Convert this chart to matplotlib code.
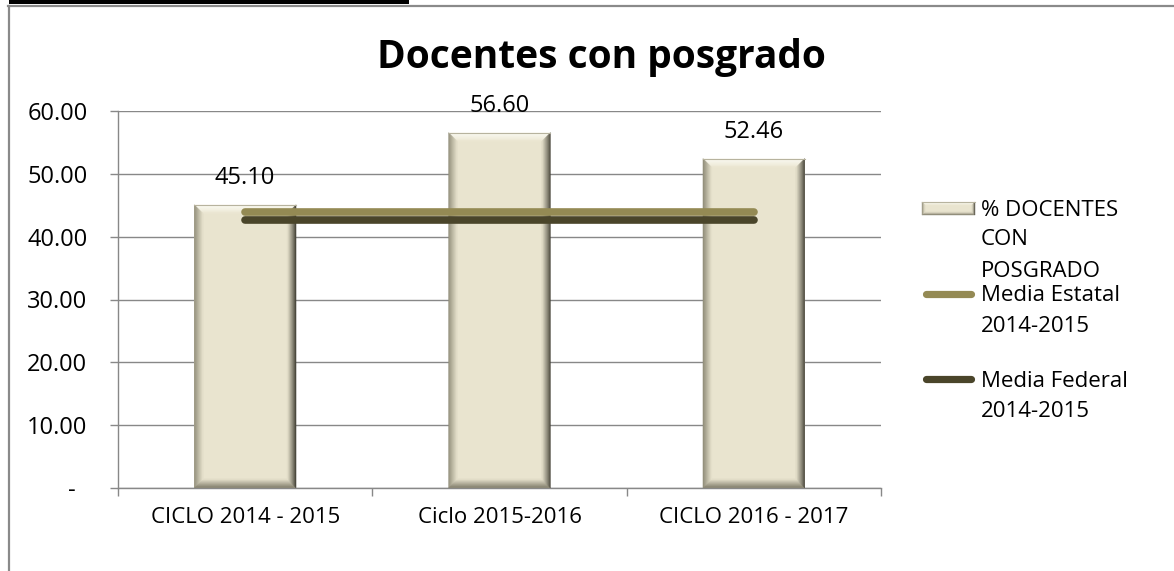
import matplotlib
matplotlib.use("Agg")
import matplotlib.pyplot as plt
from matplotlib.patches import Polygon, Rectangle
from matplotlib.lines import Line2D
from matplotlib.transforms import IdentityTransform
import numpy as np

# ---------------- data ----------------
categories = ["CICLO 2014 - 2015", "Ciclo 2015-2016", "CICLO 2016 - 2017"]
docentes_posgrado = [45.10, 56.60, 52.46]
media_estatal = [44.0, 44.0, 44.0]
media_federal = [42.6, 42.6, 42.6]
yticks = [0, 10, 20, 30, 40, 50, 60]
title = "Docentes con posgrado"
legend_labels = ["% DOCENTES\nCON\nPOSGRADO", "Media Estatal\n2014-2015", "Media Federal\n2014-2015"]

# ---------------- style ----------------
W, H = 1174, 571
DPI = 100
FONT = "Open Sans"
plt.rcParams["font.family"] = [FONT, "DejaVu Sans"]
FILL = np.array([233, 228, 207]) / 255
C_EST = "#948A54"
C_FED = "#4A452A"
GRID = "#888888"
FS = 16
FS_NUM = 17

fig = plt.figure(figsize=(W / DPI, H / DPI), dpi=DPI)
fig.patch.set_facecolor("white")

def fy(y):  # top-based pixel -> display y
    return H - y

# frame decorations
fig.add_artist(Rectangle((9, fy(4)), 400, 4, transform=IdentityTransform(),
                         facecolor="black", edgecolor="none"))
fig.add_artist(Line2D([8, W], [fy(6.3), fy(6.3)], transform=IdentityTransform(),
                      color="#8a8a8a", lw=1.6))
fig.add_artist(Line2D([8.6, 8.6], [fy(6.3), 0], transform=IdentityTransform(),
                      color="#8a8a8a", lw=1.6))

ax_l, ax_r, ax_t, ax_b = 118, 881, 111.3, 487.7
ax = fig.add_axes([ax_l / W, (H - ax_b) / H, (ax_r - ax_l) / W, (ax_b - ax_t) / H])
ax.set_xlim(-0.5, len(categories) - 0.5)
ax.set_ylim(0, 60)

x = np.arange(len(categories))
bars = ax.bar(x, docentes_posgrado, width=0.4, color=FILL, edgecolor="none", zorder=2)

# grid & spines
ax.set_yticks(yticks)
ax.set_yticklabels(["-  " if v == 0 else f"{v:.2f}" for v in yticks], fontsize=FS_NUM)
ax.yaxis.grid(True, color=GRID, lw=1.0, zorder=0)
ax.set_axisbelow(True)
ax.tick_params(axis="y", length=6, color=GRID, width=1.0, pad=16)
ax.set_xticks(np.arange(-0.5, len(categories), 1.0))
ax.set_xticklabels([])
ax.tick_params(axis="x", which="major", length=6, color=GRID, width=1.0)
ax.set_xticks(x, minor=True)
ax.set_xticklabels(categories, minor=True, fontsize=FS)
ax.tick_params(axis="x", which="minor", length=0, pad=14)
for s in ["top", "right"]:
    ax.spines[s].set_visible(False)
for s in ["left", "bottom"]:
    ax.spines[s].set_color(GRID)
    ax.spines[s].set_linewidth(1.0)

# bevel effect on bars
def mix(c_outer, t):
    c_outer = np.array(c_outer)
    return tuple(c_outer * (1 - t) + FILL * t)

OUT_TOP = np.array([252, 251, 243]) / 255
OUT_LEFT = np.array([140, 137, 117]) / 255
OUT_RIGHT = np.array([50, 48, 38]) / 255
OUT_BOT = np.array([120, 116, 98]) / 255

def bevel(x0, y0, x1, y1, b=9, n=9, z=3, target=None):
    target = target if target is not None else ax
    for k in range(n):
        d0 = b * k / n
        d1 = b * (k + 1) / n
        t = (k + 0.5) / n
        polys = [
            ([(x0 + d0, y1 - d0), (x1 - d0, y1 - d0), (x1 - d1, y1 - d1), (x0 + d1, y1 - d1)], mix(OUT_TOP, t ** 1.5)),
            ([(x0 + d0, y0 + d0), (x1 - d0, y0 + d0), (x1 - d1, y0 + d1), (x0 + d1, y0 + d1)], mix(OUT_BOT, t)),
            ([(x0 + d0, y0 + d0), (x0 + d0, y1 - d0), (x0 + d1, y1 - d1), (x0 + d1, y0 + d1)], mix(OUT_LEFT, t)),
            ([(x1 - d0, y0 + d0), (x1 - d0, y1 - d0), (x1 - d1, y1 - d1), (x1 - d1, y0 + d1)], mix(OUT_RIGHT, t ** 0.8)),
        ]
        for pts, col in polys:
            p = Polygon(pts, closed=True, facecolor=col, edgecolor=col, lw=0.3,
                        transform=IdentityTransform(), zorder=z)
            if target is ax:
                ax.add_artist(p)
            else:
                fig.add_artist(p)
    edge = Line2D([x0, x1], [y1, y1], transform=IdentityTransform(), color="#b7b39e", lw=0.8, zorder=z)
    if target is ax:
        ax.add_artist(edge)
    else:
        fig.add_artist(edge)

for r in bars:
    (dx0, dy0) = ax.transData.transform((r.get_x(), 0))
    (dx1, dy1) = ax.transData.transform((r.get_x() + r.get_width(), r.get_height()))
    bevel(dx0, dy0, dx1, dy1)

# mean lines
ax.plot(x, media_estatal, color=C_EST, lw=5.5, solid_capstyle="round", zorder=5)
ax.plot(x, media_federal, color=C_FED, lw=5.5, solid_capstyle="round", zorder=5)

# data labels
for xi, v in zip(x, docentes_posgrado):
    ax.annotate(f"{v:.2f}", (xi, v), xytext=(0, 27), textcoords="offset pixels",
                ha="center", va="center", fontsize=FS_NUM, zorder=6)

# title
fig.text(601 / W, fy(68) / H, title, ha="center", va="baseline",
         fontsize=28, fontweight="bold")

# legend (manual)
lx0, lx1, tx = 922, 975, 981
bevel(lx0, fy(215), lx1, fy(202), b=3, n=3, z=3, target=fig)
fig.add_artist(Rectangle((lx0 + 3, fy(212)), lx1 - lx0 - 6, 7, transform=IdentityTransform(),
                         facecolor=FILL, edgecolor="none", zorder=2))
fig.add_artist(Line2D([lx0 + 4, lx1 - 4], [fy(294), fy(294)], transform=IdentityTransform(),
                      color=C_EST, lw=5.2, solid_capstyle="round"))
fig.add_artist(Line2D([lx0 + 4, lx1 - 4], [fy(379), fy(379)], transform=IdentityTransform(),
                      color=C_FED, lw=5.2, solid_capstyle="round"))
baselines = [[216, 245, 277], [301, 331.7], [386.7, 416.7]]
for lab, bls in zip(legend_labels, baselines):
    for line, bl in zip(lab.split("\n"), bls):
        fig.text(tx / W, fy(bl) / H, line, ha="left", va="baseline", fontsize=FS)

fig.savefig("out.png", dpi=DPI, facecolor="white")
